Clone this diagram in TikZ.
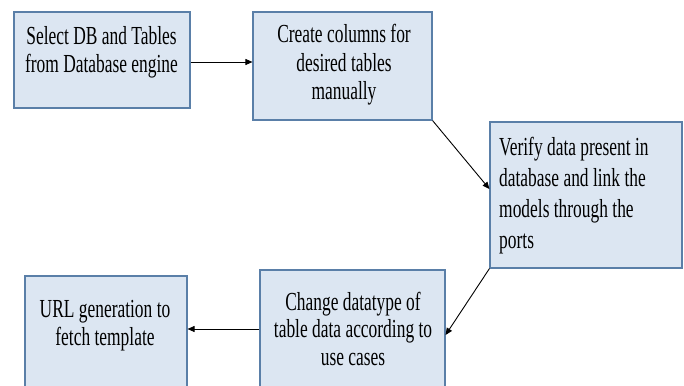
\documentclass[tikz,border=0pt]{standalone}
\usepackage{fontspec}
\setmainfont{Liberation Serif}
\usetikzlibrary{arrows.meta,calc}
\definecolor{boxfill}{HTML}{DCE6F2}
\definecolor{boxline}{HTML}{5A7FA8}
\newcommand{\btxt}[3]{\scalebox{0.67}[1]{\fontsize{26}{#1}\selectfont\begin{tabular}[t]{@{}#2@{}}#3\end{tabular}}}
\begin{document}
\begin{tikzpicture}[x=1pt,y=-1pt,
  box/.style={draw=boxline,fill=boxfill,line width=1.1pt,inner sep=0pt},
  txt/.style={inner sep=0pt,anchor=base},
  arr/.style={draw=black,line width=0.9pt,-{Triangle[length=7pt,width=6pt]}}]
\useasboundingbox (0,0) rectangle (684,385);
% boxes
\node[box,minimum width=176pt,minimum height=96pt] (b1) at (102,60) {};
\node[box,minimum width=179pt,minimum height=108pt] (b2) at (342.5,66) {};
\node[box,minimum width=192pt,minimum height=146pt] (b3) at (586,195) {};
\node[box,minimum width=185pt,minimum height=130pt] (b4) at (352.5,335) {};
\node[box,minimum width=162pt,minimum height=130pt] (b5) at (106,341) {};
% texts
\node[txt] (t1) at (101.5,45) {\btxt{28}{c}{Select DB and Tables\\from Database engine}};
\node[txt] (t2) at (344,43) {\btxt{28.5}{c}{Create columns for\\desired tables\\manually}};
\node[txt,anchor=base west] (t3) at (499,155) {\btxt{31}{l}{Verify data present in\\database and link the\\models through the\\ports}};
\node[txt] (t4) at (353,310) {\btxt{27.5}{c}{Change datatype of\\table data according to\\use cases}};
\node[txt] (t5) at (105,317) {\btxt{28}{c}{URL generation to\\fetch template}};
% connectors
\draw[arr] (b1.east |- 0,62) -- (b2.west |- 0,62);
\draw[arr] (b2.south east) -- ([yshift=6pt]b3.west);
\draw[arr] (b3.south west) -- (b4.east);
\draw[arr] (b4.west |- 0,329) -- (b5.east |- 0,329);
\end{tikzpicture}
\end{document}
